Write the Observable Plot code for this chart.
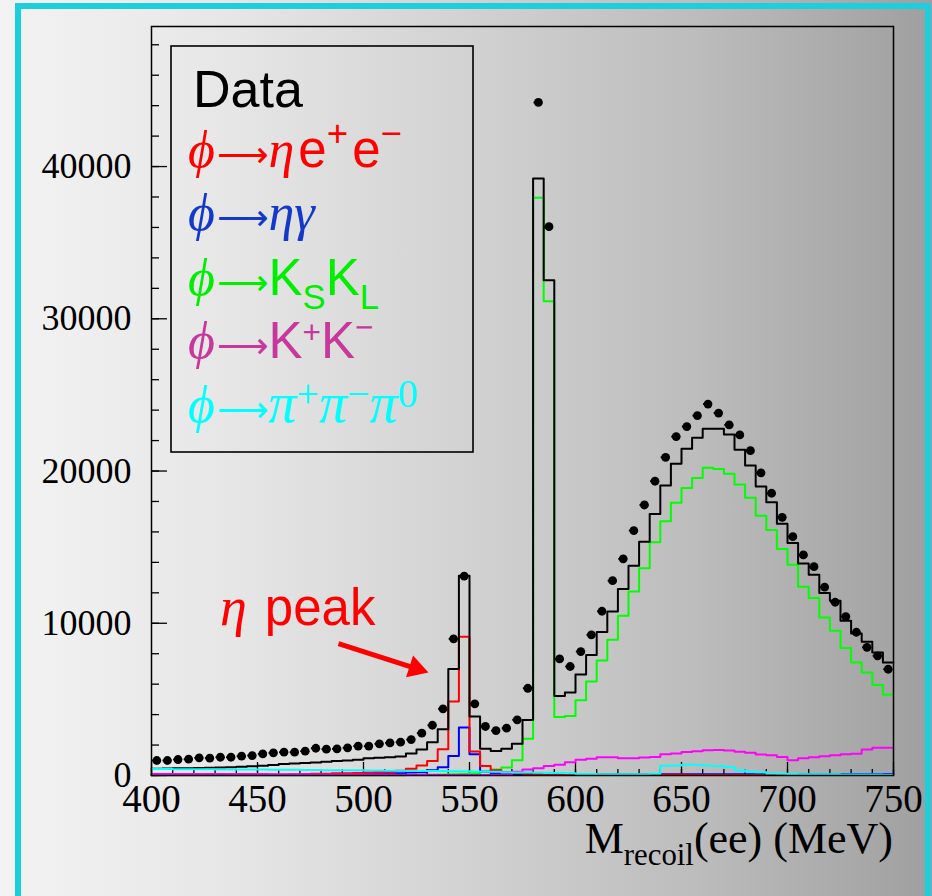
<!DOCTYPE html>
<html><head><meta charset="utf-8">
<script src="https://cdn.jsdelivr.net/npm/d3@7"></script>
<script src="https://cdn.jsdelivr.net/npm/@observablehq/plot@0.6"></script>
<style>
html,body{margin:0;padding:0;width:932px;height:896px;overflow:hidden;}
body{background:linear-gradient(to right,#f3f3f3 0%,#e6e6e6 25%,#d2d2d2 50%,#bcbcbc 75%,#9f9f9f 100%);position:relative;}
#chart{position:absolute;left:0;top:0;}
#border{position:absolute;left:15px;top:3px;width:904px;height:900px;border:6px solid #1ccfdc;border-bottom:none;pointer-events:none;}
</style></head><body>
<div id="chart"></div><div id="border"></div>
<script>
// ---- data (bins of 5 MeV from 400 to 750) ----
const binLow = d3.range(400, 750, 5);
const dataCounts = [985,985,1050,1070,1160,1140,1200,1200,1270,1310,1420,1490,1530,1530,1600,1790,1730,1750,1820,1930,
  1930,2080,2140,2190,2360,2780,3300,4380,8975,13090,4710,3220,2950,3110,3660,5730,44210,36050,7660,7160,
  8140,9240,10790,12800,14230,16090,17770,19330,20900,22260,22920,23640,24400,23810,23030,22370,21340,19880,18540,16960,
  15690,14490,13720,12370,11380,10440,9410,8420,7860,6980];
const mcSum = [450,460,470,480,490,510,530,550,570,600,640,690,760,790,820,860,900,950,990,1030,
  1130,1160,1200,1250,1450,1700,2180,3040,6990,13125,3870,1765,1610,1765,2090,3650,39220,32530,5230,5450,
  6630,7920,9420,10780,12250,13780,15360,17180,19050,20470,21460,22180,22780,22780,22400,21390,20360,18980,17950,16530,
  15280,13930,13190,11990,11480,10160,9330,8780,8080,7420];
const etaEE = [30,30,30,30,30,30,30,30,30,30,30,30,30,60,100,110,120,140,150,170,
  200,210,230,320,440,660,950,1720,4860,9110,1570,625,340,230,150,120,100,90,80,70,
  60,60,60,50,50,50,50,50,50,50,50,40,40,40,40,40,40,40,40,40,
  40,40,40,40,40,40,40,40,40,40];
const etaGamma = [50,50,50,50,50,50,50,50,50,50,50,50,50,50,50,50,100,100,100,100,
  150,150,150,150,200,220,340,540,1280,3150,1390,250,150,100,60,60,60,60,60,60,
  60,60,60,60,60,60,60,60,80,80,80,80,80,80,80,80,80,80,80,80,
  80,60,60,60,60,100,100,100,100,100];
const ksKl = [20,20,20,20,20,20,20,20,20,20,20,20,20,20,20,20,20,20,20,20,
  20,20,20,20,30,30,40,60,80,100,150,250,400,520,1000,2420,37950,31150,3850,3910,
  4950,6170,7550,8920,10490,12090,13610,15320,16700,17910,18890,19550,20210,20140,19820,19110,18240,17070,16130,14880,
  13850,12400,11660,10380,9510,8370,7420,6760,5950,5300];
const kPlusKMinus = [100,100,100,100,100,100,100,100,100,100,100,80,80,80,80,70,70,70,70,60,
  60,60,60,50,50,50,50,40,40,40,40,30,50,80,250,400,470,625,700,870,
  1040,1100,1200,1200,1140,1130,1180,1220,1400,1450,1550,1600,1660,1670,1650,1560,1500,1380,1330,1220,
  1000,1130,1200,1260,1330,1390,1430,1700,1830,1830];
const threePi = [420,420,415,410,410,405,400,400,400,400,390,385,380,370,360,355,350,345,340,340,
  330,325,320,310,300,300,290,290,280,280,260,250,240,220,200,190,180,170,160,150,
  100,95,90,85,85,80,80,120,640,650,700,710,660,630,560,340,240,220,130,120,
  100,90,90,80,80,70,70,60,60,50];

const xMajor = [400,450,500,550,600,650,700,750];
const xMinor = d3.range(400, 751, 10);
const yMajor = [0,10000,20000,30000,40000];
const yMinor = d3.range(0, 49200, 2000);

const arrowShaft = [{x1: 488.2, y1: 8670, x2: 523.5, y2: 7087}];
const arrowHead = [{x: 524.7, y: 7028, angle: 108}];
const annotation = {x: 432.5, y: 9850};

const series = [
  {name: "φ→KSKL", vals: ksKl, color: "#00ff00"},
  {name: "φ→ηγ", vals: etaGamma, color: "#0000ff"},
  {name: "φ→ηe+e−", vals: etaEE, color: "#ff0000"},
  {name: "MC sum", vals: mcSum, color: "#000000"},
  {name: "φ→K+K−", vals: kPlusKMinus, color: "#ff00ff"},
  {name: "φ→π+π−π0", vals: threePi, color: "#00ffff"}
];
const stepData = vals => [...binLow.map((x, i) => ({x, y: vals[i]})), {x: 750, y: vals[vals.length - 1]}];
const dataPts = binLow.map((x, i) => ({x: x + 2.5, lo: x + 0.4, hi: x + 4.6, y: dataCounts[i]}));

const W = 932, H = 896, mL = 151, mR = 39, mT = 26, mB = 121;
const plotH = H - mT - mB, plotW = W - mL - mR;

const plot = Plot.plot({
  width: W, height: H,
  marginLeft: mL, marginRight: mR, marginTop: mT, marginBottom: mB,
  style: {background: "transparent", fontFamily: "'Liberation Serif', serif", color: "black", overflow: "visible"},
  x: {domain: [400, 750]},
  y: {domain: [0, 49200]},
  marks: [
    Plot.ruleX(xMinor, {x: d => d, insetTop: plotH - 6, stroke: "black", strokeWidth: 1.3}),
    Plot.ruleX(xMajor, {x: d => d, insetTop: plotH - 13, stroke: "black", strokeWidth: 1.3}),
    Plot.ruleY(yMinor, {y: d => d, insetRight: plotW - 8, stroke: "black", strokeWidth: 1.3}),
    Plot.ruleY(yMajor, {y: d => d, insetRight: plotW - 16, stroke: "black", strokeWidth: 1.3}),
    Plot.axisX({ticks: xMajor, tickSize: 0, tickPadding: 9, fontSize: 39, tickFormat: d => String(d), label: null}),
    Plot.axisY({ticks: yMajor, tickSize: 0, tickPadding: 20, fontSize: 36, tickFormat: d => String(d), label: null}),
    ...series.map(s => Plot.line(stepData(s.vals), {x: "x", y: "y", curve: "step-after", stroke: s.color, strokeWidth: 2})),
    Plot.ruleY(dataPts, {y: "y", x1: "lo", x2: "hi", stroke: "black", strokeWidth: 1.8}),
    Plot.dot(dataPts, {x: "x", y: "y", r: 4.4, fill: "black", stroke: "none"}),
    Plot.link(arrowShaft, {x1: "x1", y1: "y1", x2: "x2", y2: "y2", stroke: "#ff0000", strokeWidth: 5}),
    Plot.dot(arrowHead, {x: "x", y: "y", symbol: "triangle", r: 8.5, fill: "#ff0000", stroke: "none", rotate: "angle"}),
    Plot.frame({stroke: "black", strokeWidth: 1.5})
  ]
});
document.getElementById("chart").appendChild(plot);

// ---- rich text: legend, annotation, axis title ----
const svg = d3.select(plot);
const SERIF = "'Liberation Serif', serif", SANS = "'Liberation Sans', Arial, sans-serif", DJ = "'DejaVu Sans', sans-serif";
function richText(g, x, y, color, size, parts, anchor) {
  const t = g.append("text").attr("x", x).attr("y", y).attr("fill", color)
    .attr("font-size", size).attr("text-anchor", anchor || "start");
  let off = 0;
  for (const p of parts) {
    const target = p.sup ? -size * (p.raise || 0.42) : p.sub ? size * 0.27 : 0;
    const fs = p.size ? p.size : (p.sup || p.sub) ? size * (p.scale || 0.68) : size;
    const ts = t.append("tspan").text(p.t)
      .attr("font-family", p.f === "sans" ? SANS : p.f === "dj" ? DJ : SERIF)
      .attr("font-style", p.i ? "italic" : "normal")
      .attr("font-size", fs);
    if (p.dx) ts.attr("dx", p.dx);
    if (target !== off) { ts.attr("dy", target - off); off = target; }
  }
  return t;
}
const phi = {t: "ϕ", f: "serif", i: true, size: 52};
const arr = {t: "⟶", f: "dj", size: 36, dx: 2};
const legendRows = [
  {color: "#000000", y: 107, size: 52, parts: [{t: "Data", f: "sans"}]},
  {color: "#ff0000", y: 167, size: 51, parts: [phi, arr, {t: "η", f: "serif", i: true, size: 52}, {t: "e", f: "sans", dx: 4}, {t: "+", f: "sans", sup: true, scale: 0.72}, {t: "e", f: "sans", dx: 4}, {t: "−", f: "sans", sup: true, scale: 0.72}]},
  {color: "#1438c8", y: 230, size: 48, parts: [phi, arr, {t: "ηγ", f: "serif", i: true, size: 52}]},
  {color: "#00ee00", y: 295, size: 51, parts: [phi, arr, {t: "K", f: "sans"}, {t: "S", f: "sans", sub: true, scale: 0.68}, {t: "K", f: "sans"}, {t: "L", f: "sans", sub: true, scale: 0.68}]},
  {color: "#c8379b", y: 358, size: 51, parts: [phi, arr, {t: "K", f: "sans"}, {t: "+", f: "sans", sup: true, scale: 0.62, raise: 0.3}, {t: "K", f: "sans"}, {t: "−", f: "sans", sup: true, scale: 0.62, raise: 0.4}]},
  {color: "#00ffff", y: 422, size: 50, parts: [phi, arr, {t: "π", f: "serif", i: true, size: 56}, {t: "+", f: "serif", sup: true, scale: 0.8, raise: 0.3}, {t: "π", f: "serif", i: true, size: 56}, {t: "−", f: "serif", sup: true, scale: 0.8, raise: 0.3}, {t: "π", f: "serif", i: true, size: 56}, {t: "0", f: "serif", sup: true, scale: 0.8, raise: 0.3}]}
];
const lg = svg.append("g").attr("class", "legend");
lg.append("rect").attr("x", 171).attr("y", 46).attr("width", 302).attr("height", 406)
  .attr("fill", "none").attr("stroke", "black").attr("stroke-width", 1.6);
legendRows.forEach((r, i) => richText(lg, i === 0 ? 193 : 188, r.y, r.color, r.size, r.parts));

const sx = plot.scale("x"), sy = plot.scale("y");
richText(svg.append("g"), sx.apply(annotation.x), sy.apply(annotation.y), "#ff0000", 51,
  [{t: "η", f: "serif", i: true, size: 54}, {t: " peak", f: "sans", dx: 4}]);

richText(svg.append("g"), W - mR, 853, "#000000", 44,
  [{t: "M", f: "serif"}, {t: "recoil", f: "serif", sub: true, scale: 0.7}, {t: "(ee) (MeV)", f: "serif"}], "end");
</script>
</body></html>
